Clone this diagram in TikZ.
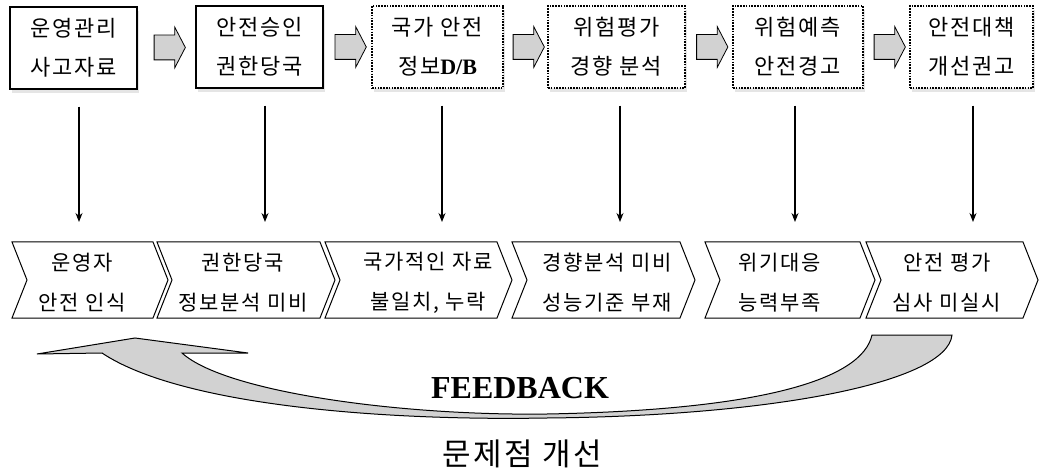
\documentclass[tikz,border=0pt]{standalone}
\usepackage{fontspec}
\setmainfont{Noto Sans CJK KR}[LetterSpace=8]
\newfontfamily\latinserif{Liberation Serif}
\usetikzlibrary{shapes.arrows,shadows,calc,arrows.meta}

% chevron outline between two top corners
\newcommand{\chevron}[2]{\draw[chev] (#1,242) -- (#2,242) -- (#2+15,280) -- (#2,318) -- (#1,318) -- (#1+15,280) -- cycle;}

\begin{document}
\begin{tikzpicture}[x=1pt,y=-1pt,
  box/.style={draw, line width=1.3pt, minimum height=82pt, align=center, fill=white,
    font=\fontsize{22}{39}\selectfont,
    drop shadow={shadow xshift=2pt, shadow yshift=-4pt, fill=gray!40, opacity=0.5}},
  dotbox/.style={box, dash pattern=on 1.6pt off 1.2pt, line width=1.5pt},
  chev/.style={draw, line width=1pt},
  chevtext/.style={align=center, font=\fontsize{21}{40}\selectfont},
  flow/.style={single arrow, draw, fill=gray!35, line width=0.8pt, inner sep=12pt,
    single arrow head extend=8pt, single arrow tip angle=125, minimum height=30pt},
  down/.style={->, >={Stealth[length=9pt, width=7pt]}, line width=1.1pt}]
\useasboundingbox (0,0) rectangle (1039,473);

% top boxes
\node[box, minimum width=127pt] (b1) at (73.5,48) {운영관리\\사고자료};
\node[box, minimum width=127pt] (b2) at (259.5,47) {안전승인\\권한당국};
\node[dotbox, minimum width=131pt] (b3) at (437.5,47) {국가 안전\\정보{\latinserif\bfseries D/B}};
\node[dotbox, minimum width=137pt] (b4) at (616.5,47) {위험평가\\경향 분석};
\node[dotbox, minimum width=130pt] (b5) at (798,47) {위험예측\\안전경고};
\node[dotbox, minimum width=123pt] (b6) at (971.5,47) {안전대책\\개선권고};

% block arrows between boxes
\node[flow] (f1) at ($(b1.east)!0.5!(b2.west)$) {};
\node[flow] (f2) at ($(b2.east)!0.5!(b3.west)$) {};
\node[flow] (f3) at ($(b3.east)!0.5!(b4.west)$) {};
\node[flow] (f4) at ($(b4.east)!0.5!(b5.west)$) {};
\node[flow] (f5) at ($(b5.east)!0.5!(b6.west)$) {};

% chevrons
\chevron{12}{153}
\chevron{157}{320}
\chevron{325}{497}
\chevron{512}{680}
\chevron{705}{860}
\chevron{866}{1023}
\node[chevtext] (c1) at (82,283) {운영자\\안전 인식};
\node[chevtext] (c2) at (243,283) {권한당국\\정보분석 미비};
\node[chevtext] (c3) at (428,283) {국가적인 자료\\불일치, 누락};
\node[chevtext] (c4) at (607,283) {경향분석 미비\\성능기준 부재};
\node[chevtext] (c5) at (780,283) {위기대응\\능력부족};
\node[chevtext] (c6) at (947,283) {안전 평가\\심사 미실시};

% arrows down
\coordinate (e1) at (79,222);
\coordinate (e2) at (265,222);
\coordinate (e3) at (442,222);
\coordinate (e4) at (620,222);
\coordinate (e5) at (795,222);
\coordinate (e6) at (973,222);
\draw[down] ([yshift=-17pt]b1.south -| e1) -- (e1);
\draw[down] ([yshift=-17pt]b2.south -| e2) -- (e2);
\draw[down] ([yshift=-17pt]b3.south -| e3) -- (e3);
\draw[down] ([yshift=-17pt]b4.south -| e4) -- (e4);
\draw[down] ([yshift=-17pt]b5.south -| e5) -- (e5);
\draw[down] ([yshift=-17pt]b6.south -| e6) -- (e6);

% feedback arrow
\draw[fill=gray!35, line width=1pt, line join=miter]
  (872,335) -- (952,335) .. controls (947,383) and (770,416) .. (547,418)
  .. controls (380,421) and (180,405) .. (102,353) -- (37,354) -- (135,338) -- (248,353) -- (182,353)
  .. controls (225,392) and (400,416) .. (547,414)
  .. controls (760,410) and (862,380) .. (872,335) -- cycle;
\node[font=\latinserif\bfseries\fontsize{32}{36}\selectfont] (fb) at (520,388) {FEEDBACK};
\node[font=\fontsize{31}{36}\selectfont] (fix) at (522,454) {문제점 개선};
\end{tikzpicture}
\end{document}
